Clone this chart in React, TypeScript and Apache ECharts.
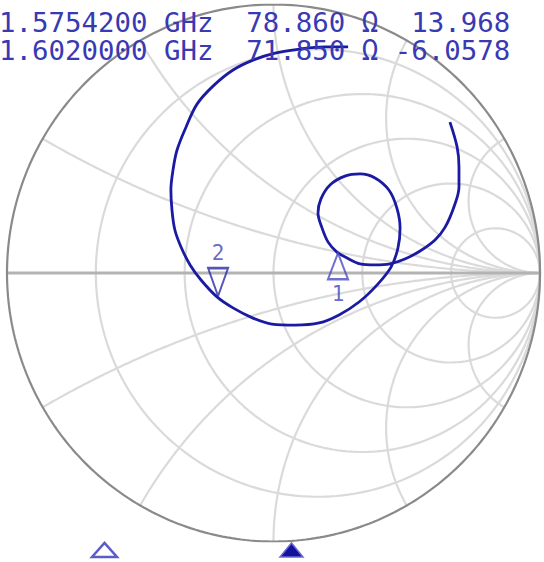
import React, { useEffect, useRef } from "react";
import * as echarts from "echarts";

// Smith chart grid values (normalised resistance circles, reactance arcs)
const resistanceCircles = [0.2, 0.5, 1, 2, 5];
const reactanceArcs = [0.268, 0.577, 1, 1.732, 3.732];

const traceRe = [
  0.662, 0.689, 0.696, 0.696, 0.677, 0.644, 0.606, 0.55, 0.493, 0.437, 0.381, 0.325, 0.276,
  0.238, 0.205, 0.182, 0.167, 0.178, 0.212, 0.268, 0.325, 0.381, 0.433, 0.463, 0.475, 0.467,
  0.441, 0.388, 0.321, 0.246, 0.171, 0.081, -0.006, -0.077, -0.152, -0.212, -0.272, -0.313,
  -0.347, -0.37, -0.381, -0.385, -0.377, -0.362, -0.328, -0.287, -0.227, -0.152, -0.077,
  0.006, 0.099, 0.193, 0.28,
];
const traceIm = [
  0.562, 0.469, 0.395, 0.32, 0.246, 0.171, 0.123, 0.082, 0.052, 0.034, 0.03, 0.034, 0.056,
  0.078, 0.115, 0.168, 0.223, 0.276, 0.328, 0.361, 0.369, 0.354, 0.309, 0.242, 0.168, 0.093,
  0.022, -0.045, -0.108, -0.156, -0.186, -0.194, -0.19, -0.168, -0.13, -0.089, -0.026, 0.03,
  0.097, 0.16, 0.235, 0.309, 0.384, 0.458, 0.544, 0.629, 0.696, 0.756, 0.793, 0.819, 0.834,
  0.842, 0.842,
];

// Markers
const markerNames = ["1", "2"];
const markerRe = [0.242, -0.208];
const markerIm = [0.074, -0.086];

// Marker readout
const readoutFreq = ["1.5754200 GHz", "1.6020000 GHz"];
const readoutR = ["78.860 Ω", "71.850 Ω"];
const readoutX = ["13.968", "-6.0578"];

function zToGamma(r: number, x: number): [number, number] {
  const nr = r - 1;
  const dr = r + 1;
  const d = dr * dr + x * x;
  return [(nr * dr + x * x) / d, (x * dr - nr * x) / d];
}

function rCircle(r: number): number[][] {
  const pts: number[][] = [[1, 0]];
  const n = 240;
  for (let i = 1; i < n; i++) {
    const th = -Math.PI / 2 + (Math.PI * i) / n;
    pts.push(zToGamma(r, Math.tan(th)));
  }
  pts.push([1, 0]);
  return pts;
}

function xArc(x: number): number[][] {
  const pts: number[][] = [];
  const n = 200;
  for (let i = 0; i < n; i++) {
    const t = (i / n) * 0.9995;
    pts.push(zToGamma(t / (1 - t), x));
  }
  pts.push([1, 0]);
  return pts;
}

function unitCircle(): number[][] {
  const pts: number[][] = [];
  const n = 360;
  for (let i = 0; i <= n; i++) {
    const a = (2 * Math.PI * i) / n;
    pts.push([Math.cos(a), Math.sin(a)]);
  }
  return pts;
}

export default function App() {
  const ref = useRef<HTMLDivElement>(null);

  useEffect(() => {
    if (!ref.current) return;
    const chart = echarts.init(ref.current, undefined, { renderer: "svg" });

    const gridColor = "#dadada";
    const series: any[] = [];

    resistanceCircles.forEach((r) => {
      series.push({
        type: "line",
        data: rCircle(r),
        showSymbol: false,
        silent: true,
        lineStyle: { color: gridColor, width: 2.2 },
        z: 1,
      });
    });
    reactanceArcs.forEach((x) => {
      [x, -x].forEach((xv) => {
        series.push({
          type: "line",
          data: xArc(xv),
          showSymbol: false,
          silent: true,
          lineStyle: { color: gridColor, width: 2.2 },
          z: 1,
        });
      });
    });
    series.push({
      type: "line",
      data: [
        [-1, 0],
        [1, 0],
      ],
      showSymbol: false,
      silent: true,
      lineStyle: { color: "#b3b3b3", width: 3 },
      z: 2,
    });
    series.push({
      type: "line",
      data: unitCircle(),
      showSymbol: false,
      silent: true,
      lineStyle: { color: "#8a8a8a", width: 2.2 },
      z: 2,
    });
    series.push({
      type: "line",
      data: traceRe.map((v, i) => [v, traceIm[i]]),
      showSymbol: false,
      smooth: 0.35,
      lineStyle: { color: "#1a1aa2", width: 2.8 },
      z: 5,
    });
    series.push({
      type: "scatter",
      z: 6,
      data: markerNames.map((name, i) => {
        const up = i === 0;
        return {
          value: [markerRe[i], markerIm[i]],
          name,
          symbol: up ? "path://M10,0 L20,26 L0,26 Z" : "path://M0,0 L20,0 L10,28 Z",
          symbolSize: up ? [20, 26] : [20, 28],
          symbolOffset: up ? [0, 13] : [0, -14],
          itemStyle: {
            color: "rgba(255,255,255,0)",
            borderColor: up ? "#4b4bc2" : "#2a2aa8",
            borderWidth: 2.2,
          },
          label: {
            show: true,
            formatter: name,
            position: up ? "bottom" : "top",
            distance: 3,
            color: "#4444b8",
            fontSize: 21,
            fontFamily: '"DejaVu Sans Mono", monospace',
          },
        };
      }),
    });

    const lines = readoutFreq.map(
      (f, i) => `${f}  ${readoutR[i]} ${readoutX[i].padStart(7, " ")}`
    );

    chart.setOption({
      animation: false,
      backgroundColor: "#ffffff",
      grid: { left: 7, top: 4.5, width: 533, height: 537 },
      xAxis: { type: "value", min: -1, max: 1, show: false },
      yAxis: { type: "value", min: -1, max: 1, show: false },
      series,
      graphic: [
        ...lines.map((t, i) => ({
          type: "text",
          x: -1,
          y: 22.5 + i * 28,
          z: 10,
          style: {
            text: t,
            fontSize: 27.4,
            fontFamily: '"DejaVu Sans Mono", monospace',
            fill: "#3939b3",
            textVerticalAlign: "middle",
            verticalAlign: "middle",
          },
        })),
        {
          type: "polygon",
          z: 10,
          shape: {
            points: [
              [92, 557],
              [104.5, 543],
              [117, 557],
            ],
          },
          style: { fill: "#ffffff", stroke: "#5c5cc8", lineWidth: 2.5 },
        },
        {
          type: "polygon",
          z: 10,
          shape: {
            points: [
              [280, 557],
              [291.5, 543],
              [303, 557],
            ],
          },
          style: { fill: "#12129c", stroke: "#6a6ad0", lineWidth: 1.5 },
        },
      ],
    });

    return () => chart.dispose();
  }, []);

  return (
    <div
      ref={ref}
      style={{ position: "fixed", left: 0, top: 0, width: 544, height: 562, background: "#fff" }}
    />
  );
}
